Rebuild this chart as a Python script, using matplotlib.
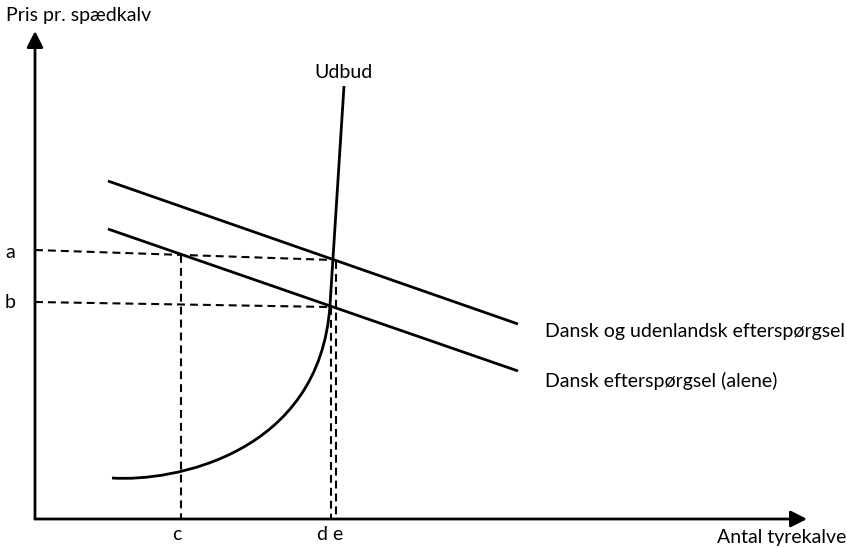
import matplotlib
matplotlib.use("Agg")
import matplotlib.pyplot as plt
from matplotlib.patches import FancyArrowPatch, PathPatch
from matplotlib.path import Path

# ---- diagram data (schematic units: x to the right, y downward) ----
origin = (35, 519)
y_axis_top = 31
x_axis_end = 807

demand_upper_x = [108, 518]
demand_upper_y = [181, 324]
demand_lower_x = [108, 518]
demand_lower_y = [229, 371]

# supply: curved lower part (cubic Bezier control points) + steep straight part
supply_curve_x = [112, 172, 320, 330]
supply_curve_y = [478, 482, 455, 305]
supply_top = (344, 86)

price_a_y = [250, 260]   # dashed guide from axis to intersection
price_a_x = [35, 333]
price_b_y = [302, 307]
price_b_x = [35, 330]

qty_c = (181, 255)
qty_d = (331, 307)
qty_e = (336, 261)

tick_labels = {"a": (10, 252), "b": (10, 302), "c": (177, 535), "d e": (330, 535)}
axis_title_y = "Pris pr. spædkalv"
axis_title_x = "Antal tyrekalve"
supply_label = "Udbud"
demand_upper_label = "Dansk og udenlandsk efterspørgsel"
demand_lower_label = "Dansk efterspørgsel (alene)"

plt.rcParams['font.family'] = ['Lato', 'DejaVu Sans']
fs = 14

fig = plt.figure(figsize=(8.47, 5.48), dpi=100)
ax = fig.add_axes([0, 0, 1, 1])
ax.set_xlim(0, 847)
ax.set_ylim(548, 0)
ax.axis('off')

lw = 2.0
dlw = 1.5
dash = (0, (3.8, 2.4))

# axes arrows
for end in [(origin[0], y_axis_top), (x_axis_end, origin[1])]:
    arr = FancyArrowPatch(origin, end, arrowstyle='-|>,head_length=0.65,head_width=0.33',
                          mutation_scale=15, color='black', lw=lw, shrinkA=0, shrinkB=0)
    ax.add_patch(arr)

# demand lines
ax.plot(demand_upper_x, demand_upper_y, color='black', lw=lw, solid_capstyle='butt')
ax.plot(demand_lower_x, demand_lower_y, color='black', lw=lw, solid_capstyle='butt')

# supply curve
verts = list(zip(supply_curve_x, supply_curve_y)) + [supply_top]
codes = [Path.MOVETO, Path.CURVE4, Path.CURVE4, Path.CURVE4, Path.LINETO]
ax.add_patch(PathPatch(Path(verts, codes), facecolor='none', edgecolor='black', lw=lw))

# dashed guides
ax.plot(price_a_x, price_a_y, color='black', lw=dlw, linestyle=dash)
ax.plot(price_b_x, price_b_y, color='black', lw=dlw, linestyle=dash)
for q in (qty_c, qty_d, qty_e):
    ax.plot([q[0], q[0]], [q[1], origin[1]], color='black', lw=dlw, linestyle=dash)

# labels
for t, (x, y) in tick_labels.items():
    ax.text(x, y, t, fontsize=fs, ha='center', va='center')
ax.text(6, 15, axis_title_y, fontsize=fs, ha='left', va='center')
ax.text(846, 537, axis_title_x, fontsize=fs, ha='right', va='center')
ax.text(343, 73, supply_label, fontsize=fs, ha='center', va='center')
ax.text(545, 331, demand_upper_label, fontsize=fs, ha='left', va='center')
ax.text(545, 381, demand_lower_label, fontsize=fs, ha='left', va='center')

fig.savefig('out.png', dpi=100, facecolor='white')
